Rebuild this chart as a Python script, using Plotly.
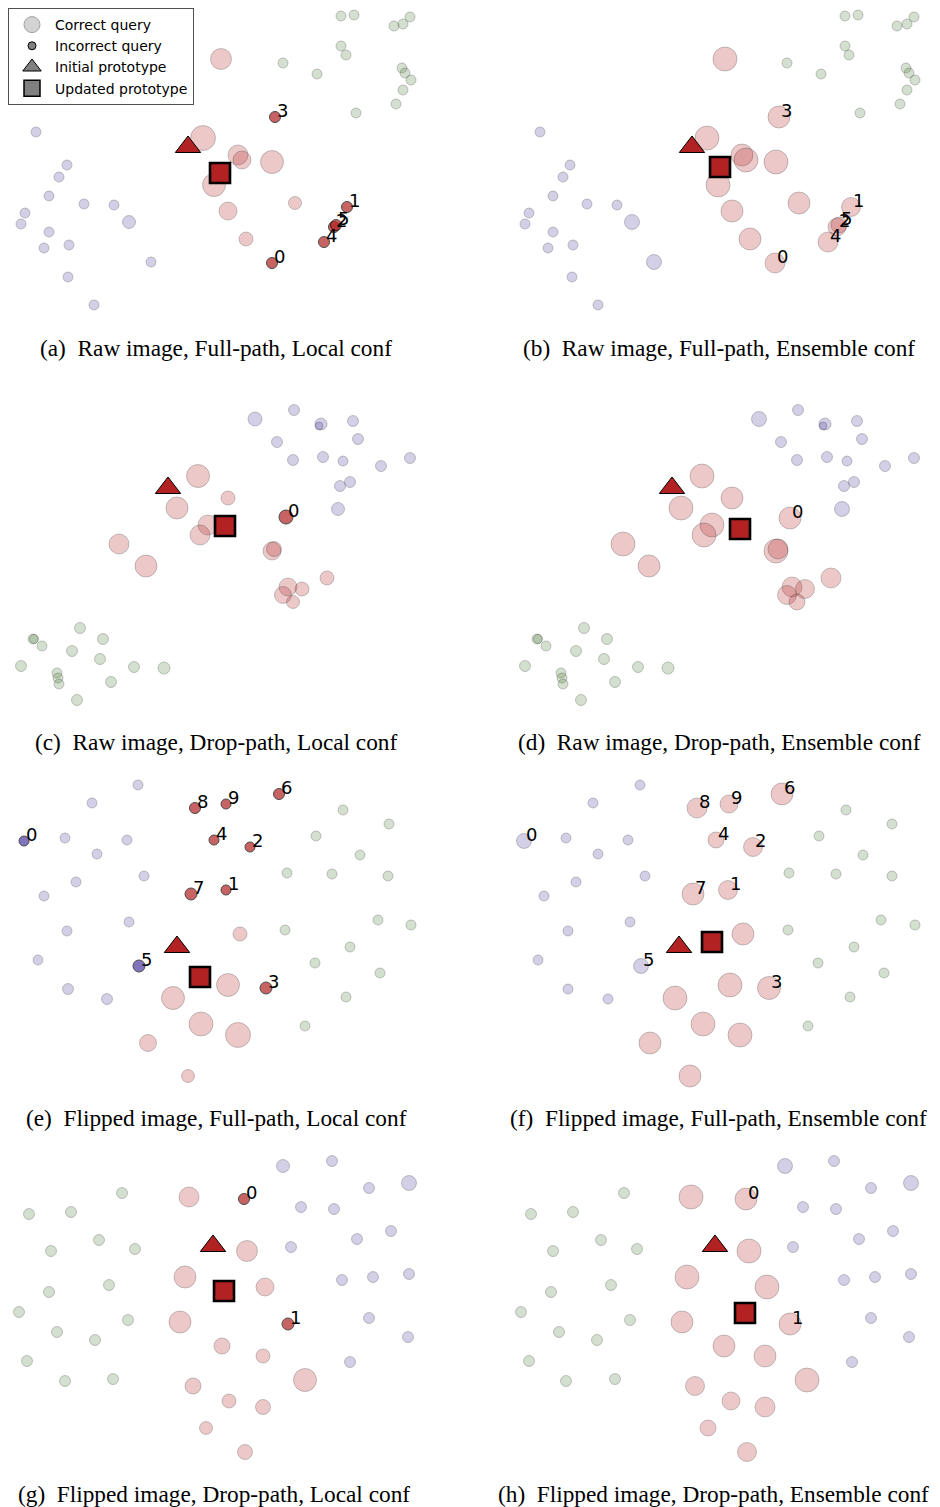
import plotly.graph_objects as go

# ---------------- data ----------------
# each point: (x, y, marker diameter); panel-local coordinates, y grows downward
# queries: (label, x, y, diameter, class, correct)

a_purple = [(36,132,10),(67,165,10),(59,177,10),(49,196,10),(84,204,10),(114,205,10),(129,222,13),
            (25,213,10),(21,224,10),(49,232,10),(69,245,10),(44,248,10),(151,262,10),(68,277,10),(94,305,10)]
a_green = [(341,16,10),(354,15,10),(410,17,10),(403,24,10),(394,26,10),(341,46,10),(346,55,10),(283,63,10),
           (317,74,10),(402,68,10),(405,73,10),(411,80,10),(403,90,10),(396,104,10),(356,113,10)]
a_pink = [(221,59,21),(203,138,25),(238,155,20),(242,160,18),(272,162,23),(214,185,23),(228,211,18),
          (295,203,13),(246,239,14)]
a_queries = [("0",272,263,11,"red",False),("1",347,207,11,"red",False),("2",334,227,11,"red",False),
             ("3",275,117,11,"red",False),("4",324,242,11,"red",False),("5",336,225,11,"red",False)]
a_init = (188,147)
a_upd = (220,173)

b_purple = [(35,132,10),(65,165,10),(58,177,10),(48,196,10),(82,204,10),(112,205,10),(127,222,15),
            (24,213,10),(20,224,10),(48,232,10),(68,245,10),(43,248,10),(149,262,15),(67,277,10),(93,305,10)]
b_green = [(340,16,10),(353,15,10),(409,17,10),(402,24,10),(392,26,10),(340,46,10),(344,55,10),(282,63,10),
           (316,74,10),(401,68,10),(404,73,10),(410,80,10),(402,90,10),(395,104,10),(355,113,10)]
b_pink = [(220,59,24),(202,138,24),(237,155,22),(241,160,24),(271,162,24),(213,185,24),(227,211,22),
          (294,203,22),(245,239,22)]
b_queries = [("0",270,263,20,"red",True),("1",346,207,19,"red",True),("2",332,227,18,"red",True),
             ("3",274,117,22,"red",True),("4",323,242,20,"red",True),("5",334,225,16,"red",True)]
b_init = (187,147)
b_upd = (215,167)

c_purple = [(255,24,14),(294,15,11),(321,29,12),(319,31,8),(353,26,11),(277,47,11),(358,44,11),(293,65,11),
            (323,62,11),(343,66,10),(381,71,11),(410,63,11),(340,91,11),(350,87,11),(338,114,13)]
c_green = [(80,233,11),(103,244,11),(33,244,10),(34,244,9),(42,251,10),(72,256,11),(100,264,11),(21,271,11),
           (134,272,11),(164,273,12),(57,278,10),(58,283,10),(59,289,10),(111,287,11),(77,305,11)]
c_pink = [(198,81,23),(228,103,14),(177,113,22),(208,130,20),(200,140,20),(119,149,20),(146,171,22),
          (272,156,18),(274,154,15),(288,192,18),(302,194,14),(283,200,17),(293,207,13),(327,183,14)]
c_queries = [("0",286,122,14,"red",False)]
c_init = (168,93)
c_upd = (225,131)

d_purple = [(254,24,15),(293,15,11),(320,29,12),(318,31,8),(352,26,11),(276,47,11),(357,44,11),(292,65,11),
            (322,62,11),(342,66,10),(380,71,11),(409,63,11),(339,91,11),(349,87,11),(337,114,15)]
d_green = [(79,233,11),(102,244,11),(32,244,10),(33,244,9),(41,251,10),(71,256,11),(99,264,11),(20,271,11),
           (133,272,11),(163,273,12),(56,278,10),(57,283,10),(58,289,10),(110,287,11),(76,305,11)]
d_pink = [(197,81,24),(227,103,22),(176,113,24),(207,130,24),(199,140,24),(118,149,24),(144,171,22),
          (271,156,24),(273,154,20),(287,192,20),(300,194,19),(282,200,19),(292,207,16),(326,183,20)]
d_queries = [("0",285,123,22,"red",True)]
d_init = (167,93)
d_upd = (235,134)

e_purple = [(138,15,10),(92,33,10),(65,68,10),(127,70,10),(97,84,10),(144,106,10),(76,112,10),(44,126,10),
            (129,152,10),(67,161,10),(38,190,10),(68,219,11),(107,229,11)]
e_green = [(343,40,10),(389,54,10),(316,66,10),(360,85,10),(287,103,10),(332,104,10),(388,106,10),(378,150,10),
           (411,155,10),(285,160,10),(350,177,10),(315,193,10),(380,203,10),(346,227,10),(305,256,10)]
e_pink = [(240,164,14),(228,215,23),(173,228,23),(201,254,24),(238,265,25),(148,273,17),(188,306,13)]
e_queries = [("0",24,71,10,"purple",False),("1",226,120,10,"red",False),("2",250,77,10,"red",False),
             ("3",266,218,12,"red",False),("4",214,70,10,"red",False),("5",139,196,12,"purple",False),
             ("6",279,24,11,"red",False),("7",191,124,12,"red",False),("8",195,38,11,"red",False),
             ("9",226,34,10,"red",False)]
e_init = (177,177)
e_upd = (200,207)

f_purple = [(135,15,10),(88,33,10),(61,68,10),(123,70,10),(93,84,10),(140,106,10),(71,112,10),(39,126,10),
            (125,152,10),(63,161,10),(33,190,10),(63,219,10),(103,229,10)]
f_green = [(341,40,10),(387,54,10),(314,66,10),(358,85,10),(284,103,10),(331,104,10),(387,106,10),(376,150,10),
           (410,155,10),(283,160,10),(349,177,10),(313,193,10),(379,203,10),(345,227,10),(303,256,10)]
f_pink = [(238,164,22),(225,215,24),(170,228,24),(198,254,24),(235,265,24),(145,273,22),(185,306,22)]
f_queries = [("0",19,71,15,"purple",True),("1",223,120,19,"red",True),("2",248,77,19,"red",True),
             ("3",264,218,23,"red",True),("4",211,70,16,"red",True),("5",136,196,15,"purple",True),
             ("6",277,24,22,"red",True),("7",188,124,22,"red",True),("8",192,38,20,"red",True),
             ("9",224,34,18,"red",True)]
f_init = (174,177)
f_upd = (207,172)

g_purple = [(283,21,13),(332,16,11),(369,43,11),(409,38,15),(301,62,11),(334,64,11),(391,86,11),(357,94,11),
            (291,102,11),(342,135,11),(373,132,11),(409,129,11),(369,173,11),(408,192,11),(350,217,11)]
g_green = [(122,48,11),(29,69,11),(71,67,11),(99,95,11),(51,106,11),(135,104,11),(109,140,11),(49,147,11),
           (19,167,11),(128,175,11),(57,187,11),(95,195,11),(27,216,11),(65,236,11),(113,234,11)]
g_pink = [(189,52,20),(247,106,21),(185,132,22),(265,142,18),(180,177,22),(222,201,16),(263,211,14),
          (305,235,23),(193,241,16),(229,256,14),(263,262,15),(206,283,13),(245,307,15)]
g_queries = [("0",244,54,11,"red",False),("1",288,179,12,"red",False)]
g_init = (213,101)
g_upd = (224,146)

h_purple = [(280,21,15),(329,16,11),(366,43,11),(406,38,15),(298,62,11),(331,64,11),(388,86,11),(354,94,11),
            (288,102,11),(339,135,11),(370,132,11),(406,129,11),(366,173,11),(404,192,11),(347,217,11)]
h_green = [(119,48,11),(26,69,11),(68,67,11),(96,95,11),(48,106,11),(132,104,11),(106,140,11),(46,147,11),
           (16,167,11),(125,175,11),(54,187,11),(92,195,11),(24,216,11),(61,236,11),(110,234,11)]
h_pink = [(186,52,24),(244,106,24),(182,132,24),(262,142,24),(177,177,22),(219,201,22),(260,211,22),
          (302,235,24),(190,241,19),(226,256,18),(260,262,20),(203,283,16),(242,307,19)]
h_queries = [("0",241,54,22,"red",True),("1",285,179,22,"red",True)]
h_init = (210,101)
h_upd = (240,168)

captions = [
    "(a)\u00a0\u00a0Raw image, Full-path, Local conf",
    "(b)\u00a0\u00a0Raw image, Full-path, Ensemble conf",
    "(c)\u00a0\u00a0Raw image, Drop-path, Local conf",
    "(d)\u00a0\u00a0Raw image, Drop-path, Ensemble conf",
    "(e)\u00a0\u00a0Flipped image, Full-path, Local conf",
    "(f)\u00a0\u00a0Flipped image, Full-path, Ensemble conf",
    "(g)\u00a0\u00a0Flipped image, Drop-path, Local conf",
    "(h)\u00a0\u00a0Flipped image, Drop-path, Ensemble conf",
]
legend_labels = ["Correct query", "Incorrect query", "Initial prototype", "Updated prototype"]

# ---------------- layout / style constants ----------------
PAGE_W, PAGE_H = 940, 1507
PAD = 8                      # default page margin around the figure div
W, H = PAGE_W - PAD, PAGE_H - PAD
# panel boxes in page pixels: (left, top, width, height)
boxes = [(0, 0, 430, 320), (505, 0, 435, 320),
         (0, 395, 430, 320), (505, 395, 435, 320),
         (0, 770, 430, 320), (505, 770, 435, 320),
         (0, 1145, 430, 330), (505, 1145, 435, 330)]
caption_pos = [(216, 348), (719, 348), (216, 742), (719, 742),
               (216, 1118), (718, 1118), (214, 1494), (713, 1494)]

BASE = {"red": (178, 34, 34), "purple": (75, 59, 160), "green": (80, 130, 60)}
ALPHA = 0.35
EDGE_LIGHT = "rgba(0,0,0,0.30)"
LABEL_FONT = dict(family="DejaVu Sans", size=18, color="black")


def light(cls):
    r, g, b = BASE[cls]
    return f"rgba({r},{g},{b},{ALPHA})"


def solid(cls):
    r, g, b = BASE[cls]
    return f"rgb({r},{g},{b})"


panels = [
    (a_purple, a_green, a_pink, a_queries, a_init, a_upd),
    (b_purple, b_green, b_pink, b_queries, b_init, b_upd),
    (c_purple, c_green, c_pink, c_queries, c_init, c_upd),
    (d_purple, d_green, d_pink, d_queries, d_init, d_upd),
    (e_purple, e_green, e_pink, e_queries, e_init, e_upd),
    (f_purple, f_green, f_pink, f_queries, f_init, f_upd),
    (g_purple, g_green, g_pink, g_queries, g_init, g_upd),
    (h_purple, h_green, h_pink, h_queries, h_init, h_upd),
]

fig = go.Figure()
layout_axes = {}
annotations = []

for i, (purple, green, pink, queries, init, upd) in enumerate(panels):
    n = i + 1
    xa = "x" if n == 1 else f"x{n}"
    ya = "y" if n == 1 else f"y{n}"
    left, top, bw, bh = boxes[i]
    fl, ft = left - PAD, top - PAD
    x0, x1 = max(fl, 0), min(fl + bw, W)
    y0, y1 = max(ft, 0), min(ft + bh, H)
    layout_axes["xaxis" if n == 1 else f"xaxis{n}"] = dict(
        domain=[x0 / W, x1 / W], range=[x0 - fl, x1 - fl], visible=False, fixedrange=True)
    layout_axes["yaxis" if n == 1 else f"yaxis{n}"] = dict(
        domain=[1 - y1 / H, 1 - y0 / H], range=[y1 - ft, y0 - ft], visible=False, fixedrange=True)

    def circles(pts, fill, edge, lw=1.0):
        fig.add_trace(go.Scatter(
            x=[p[0] for p in pts], y=[p[1] for p in pts], mode="markers",
            marker=dict(size=[p[2] for p in pts], color=fill, line=dict(color=edge, width=lw)),
            xaxis=xa, yaxis=ya, showlegend=False, hoverinfo="skip", cliponaxis=False))

    circles(purple, light("purple"), EDGE_LIGHT)
    circles(green, light("green"), EDGE_LIGHT)
    circles(pink, light("red"), EDGE_LIGHT)

    # queries
    for q in queries:
        lab, qx, qy, qs, cls, ok = q
        if ok:
            circles([(qx, qy, qs)], light(cls), EDGE_LIGHT)
        else:
            circles([(qx, qy, qs)], solid(cls), "black", 1.0)

    # prototypes
    fig.add_trace(go.Scatter(
        x=[init[0]], y=[init[1]], mode="markers",
        marker=dict(symbol="triangle-up", size=22, color=solid("red"), line=dict(color="black", width=1)),
        xaxis=xa, yaxis=ya, showlegend=False, hoverinfo="skip", cliponaxis=False))
    fig.add_trace(go.Scatter(
        x=[upd[0]], y=[upd[1]], mode="markers",
        marker=dict(symbol="square", size=20, color=solid("red"), line=dict(color="black", width=2.6)),
        xaxis=xa, yaxis=ya, showlegend=False, hoverinfo="skip", cliponaxis=False))

    # query labels: text anchored at its lower-left corner on the query position
    for q in queries:
        annotations.append(dict(
            x=q[1], y=q[2], xref=xa, yref=ya, text=q[0], showarrow=False,
            xanchor="left", yanchor="bottom", yshift=-6, xshift=0,
            font=LABEL_FONT))

# legend entries (grey proxies)
legend_styles = [
    dict(symbol="circle", size=20, color="rgb(211,211,211)", line=dict(color="rgb(160,160,160)", width=1)),
    dict(symbol="circle", size=8, color="rgb(128,128,128)", line=dict(color="black", width=1)),
    dict(symbol="triangle-up", size=18, color="rgb(128,128,128)", line=dict(color="black", width=1)),
    dict(symbol="square", size=16, color="rgb(128,128,128)", line=dict(color="black", width=1.5)),
]
for lab, st in zip(legend_labels, legend_styles):
    fig.add_trace(go.Scatter(x=[None], y=[None], mode="markers", marker=st, name=lab,
                             xaxis="x", yaxis="y", showlegend=True))

for cap, (cx, cy) in zip(captions, caption_pos):
    annotations.append(dict(
        x=(cx - PAD) / W, y=1 - (cy - PAD) / H, xref="paper", yref="paper", text=cap, showarrow=False,
        xanchor="center", yanchor="middle",
        font=dict(family="Liberation Serif", size=23.3, color="black")))

fig.update_layout(
    width=W, height=H, margin=dict(l=0, r=0, t=0, b=0),
    paper_bgcolor="white", plot_bgcolor="white",
    annotations=annotations,
    showlegend=True,
    legend=dict(x=0, y=1, xanchor="left", yanchor="top",
                bgcolor="white", bordercolor="rgb(80,80,80)", borderwidth=1,
                font=dict(family="DejaVu Sans", size=14, color="black"),
                itemsizing="trace", itemwidth=36, tracegroupgap=0),
    **layout_axes,
)

fig.write_html("out.html")
